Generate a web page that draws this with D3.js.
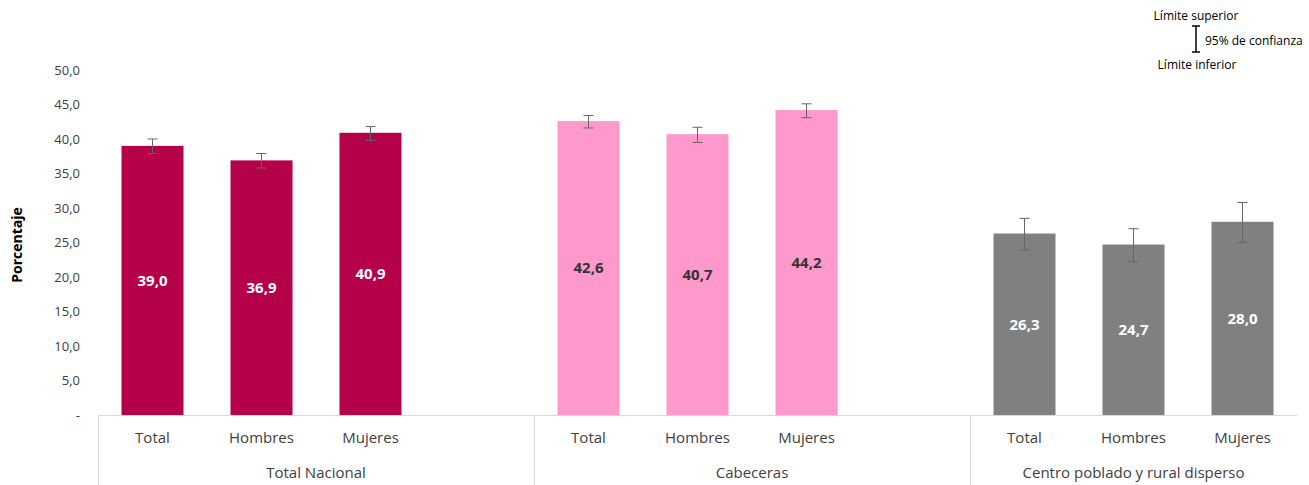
<!DOCTYPE html>
<html>
<head>
  <meta charset="UTF-8">
  <style>
    body { margin: 0; background: #fff; }
    svg { font-family: "Open Sans", "Noto Sans", sans-serif; }
  </style>
</head>
<body>
<svg></svg>
<script src="https://d3js.org/d3.v7.min.js"></script>
<script>

let width = 1309, height = 485;

// data
let groups = ["Total Nacional", "Cabeceras", "Centro poblado y rural disperso"];
let categories = ["Total", "Hombres", "Mujeres"];
let values = [[39.0, 36.9, 40.9], [42.6, 40.7, 44.2], [26.3, 24.7, 28.0]];
let lower = [[37.9, 35.8, 39.8], [41.6, 39.5, 43.1], [23.9, 22.2, 25.0]];
let upper = [[40.0, 37.9, 41.8], [43.4, 41.7, 45.1], [28.5, 27.0, 30.8]];
let colors = ["#B5004A", "#FF99CC", "#808080"];
let labelColors = ["#fff", "#333", "#fff"];
let yTicks = [0, 5, 10, 15, 20, 25, 30, 35, 40, 45, 50];

let svg = d3.select("svg")
    .attr("width", width)
    .attr("height", height);

// 11 slots: 3 bars + gap, 3 bars + gap, 3 bars
let slots = [];
groups.forEach((g, gi) => {
    categories.forEach((c, ci) => slots.push(gi + "-" + ci));
    if (gi < groups.length - 1) slots.push(gi + "-gap");
});

let x = d3.scaleBand().domain(slots).range([98, 1297]).paddingInner(0).paddingOuter(0);
let y = d3.scaleLinear().domain([0, 50]).range([415, 70]);
let barW = 62;

// y axis tick labels
svg.append("g")
.selectAll("text")
.data(yTicks)
.enter()
.append("text")
.attr("x", 80)
.attr("y", d => y(d))
.attr("dy", "0.35em")
.attr("text-anchor", "end")
.attr("font-size", "13px")
.attr("fill", "#404040")
.text(d => d == 0 ? "-" : d3.format(".1f")(d).replace(".", ","));

svg.append("text")
.attr("transform", "translate(22,245) rotate(-90)")
.attr("text-anchor", "middle")
.attr("font-size", "14px")
.attr("font-weight", "bold")
.attr("fill", "#000")
.text("Porcentaje");

// bottom axis lines
svg.append("line")
.attr("x1", 98).attr("x2", 1297)
.attr("y1", 415.5).attr("y2", 415.5)
.attr("stroke", "#d9d9d9");

let bounds = [98, x("1-0"), x("2-0")];
svg.append("g")
.selectAll("line")
.data(bounds)
.enter()
.append("line")
.attr("x1", d => Math.round(d) + 0.5).attr("x2", d => Math.round(d) + 0.5)
.attr("y1", 415).attr("y2", 485)
.attr("stroke", "#d9d9d9");

// bars
groups.forEach((g, gi) => {
    let grp = svg.append("g");
    categories.forEach((c, ci) => {
        let cx = x(gi + "-" + ci) + x.bandwidth() / 2;
        let v = values[gi][ci];

        grp.append("rect")
        .attr("x", cx - barW / 2)
        .attr("y", y(v))
        .attr("width", barW)
        .attr("height", y(0) - y(v))
        .attr("fill", colors[gi]);

        // error bar
        grp.append("line")
        .attr("x1", cx).attr("x2", cx)
        .attr("y1", y(upper[gi][ci])).attr("y2", y(lower[gi][ci]))
        .attr("stroke", "#666").attr("stroke-width", 1);
        [upper[gi][ci], lower[gi][ci]].forEach(e => {
            grp.append("line")
            .attr("x1", cx - 5).attr("x2", cx + 5)
            .attr("y1", y(e)).attr("y2", y(e))
            .attr("stroke", "#666").attr("stroke-width", 1);
        });

        grp.append("text")
        .attr("x", cx)
        .attr("y", (y(v) + y(0)) / 2)
        .attr("dy", "0.35em")
        .attr("text-anchor", "middle")
        .attr("font-size", "15px")
        .attr("font-weight", "bold")
        .attr("fill", labelColors[gi])
        .text(d3.format(".1f")(v).replace(".", ","));

        grp.append("text")
        .attr("x", cx)
        .attr("y", 438)
        .attr("dy", "0.35em")
        .attr("text-anchor", "middle")
        .attr("font-size", "15px")
        .attr("fill", "#404040")
        .text(c);
    });

    let gx = (x(gi + "-0") + x(gi + "-2") + x.bandwidth()) / 2;
    if (gi < 2) gx = (x(gi + "-0") + x(gi + "-gap") + x.bandwidth()) / 2;
    svg.append("text")
    .attr("x", gx)
    .attr("y", 473)
    .attr("dy", "0.35em")
    .attr("text-anchor", "middle")
    .attr("font-size", "15px")
    .attr("fill", "#404040")
    .text(g);
});

// confidence legend
let leg = svg.append("g").attr("font-size", "12px").attr("fill", "#000");
leg.append("text").attr("x", 1196).attr("y", 16).attr("dy", "0.35em").attr("text-anchor", "middle").text("Límite superior");
leg.append("text").attr("x", 1205).attr("y", 41).attr("dy", "0.35em").text("95% de confianza");
leg.append("text").attr("x", 1197).attr("y", 65).attr("dy", "0.35em").attr("text-anchor", "middle").text("Límite inferior");
leg.append("line").attr("x1", 1196).attr("x2", 1196).attr("y1", 26).attr("y2", 52).attr("stroke", "#000").attr("stroke-width", 1.5);
leg.append("line").attr("x1", 1192).attr("x2", 1200).attr("y1", 26).attr("y2", 26).attr("stroke", "#000").attr("stroke-width", 1.5);
leg.append("line").attr("x1", 1192).attr("x2", 1200).attr("y1", 52).attr("y2", 52).attr("stroke", "#000").attr("stroke-width", 1.5);

</script>
</body>
</html>
